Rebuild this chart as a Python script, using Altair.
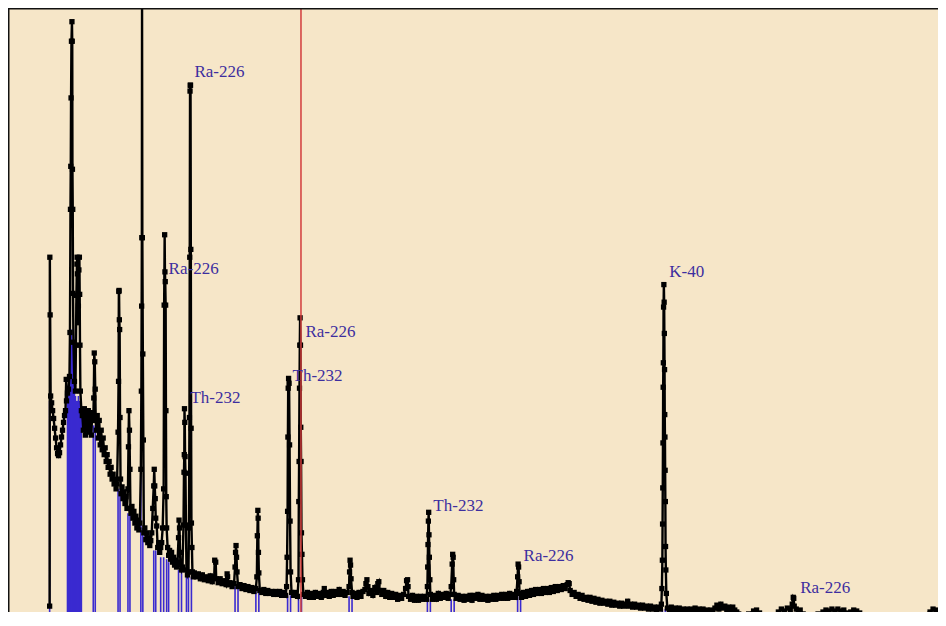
import altair as alt
import pandas as pd

# ---- spectrum (channel, counts in arbitrary units) ----
channel = [
    50, 50.2, 50.5, 51, 52, 53, 54, 55, 56, 57, 58, 59, 60, 61, 62, 63, 64, 65, 66, 66.7, 67, 68, 69,
    70, 70.5, 71, 71.3, 71.6, 72, 72.5, 72.8, 73, 73.3, 73.6, 74, 75, 76, 76.5, 77, 77.5, 77.7, 78, 78.5,
    79, 79.5, 80, 80.3, 80.6, 81, 82, 83, 84, 85, 86, 87, 88, 89, 90, 91, 92, 93, 94, 94.5, 95, 95.5,
    96, 96.5, 97, 98, 99, 100, 101, 102, 103, 104, 105, 106, 107, 108, 109, 110, 111, 112, 113, 114,
    115, 116, 117, 118, 119, 119.5, 119.8, 120, 120.3, 120.6, 121, 121.5, 122, 123, 124, 125, 126, 127,
    128, 129, 129.5, 130, 130.5, 131, 131.5, 132, 133, 134, 135, 136, 137, 138, 139, 140, 141, 142,
    142.5, 142.8, 143, 143.2, 143.5, 144, 144.5, 145, 146, 147, 148, 149, 150, 151, 152, 153, 154, 155,
    155.5, 156, 156.5, 157, 158, 159, 160, 161, 162, 163, 164, 165, 165.5, 166, 166.3, 166.6, 167,
    167.3, 167.6, 168, 169, 170, 171, 172, 173, 174, 175, 176, 177, 178, 179, 180, 180.5, 181, 181.5,
    182, 183, 184, 185, 185.5, 185.8, 186, 186.3, 186.6, 187, 187.5, 188, 189, 190, 190.5, 191, 191.3,
    191.6, 191.8, 192.1, 192.4, 192.7, 193, 193.5, 194, 195, 196, 198, 200, 202, 204, 206, 208, 210,
    212, 214, 216, 216.5, 217.5, 218, 220, 222, 224, 226, 228, 229, 229.5, 230, 232, 234, 236, 237,
    237.5, 238, 238.5, 239, 240, 242, 244, 246, 248, 250, 252, 254, 256, 258, 259, 259.5, 260, 260.3,
    260.6, 261, 262, 264, 266, 268, 270, 272, 274, 276, 278, 280, 282, 284, 286, 288, 289, 289.5, 290,
    290.3, 290.6, 291, 291.5, 292, 292.5, 293, 294, 296, 298, 300, 301, 301.3, 301.6, 302, 302.3, 302.6,
    303, 303.3, 303.6, 304, 304.5, 305, 306, 308, 310, 312, 314, 316, 318, 320, 322, 324, 326, 327, 328,
    330, 332, 334, 336, 338, 340, 342, 344, 346, 348, 350, 352, 352.5, 353, 353.5, 354, 355, 356, 358,
    360, 362, 364, 366, 368, 369, 370, 371, 372, 374, 376, 378, 380, 381, 382, 383, 385, 387, 389, 391,
    393, 395, 397, 399, 401, 403, 405, 407, 409, 410, 411, 411.5, 412, 414, 416, 418, 420, 422, 424,
    426, 428, 430, 431, 431.3, 431.6, 432, 432.3, 432.6, 433, 433.5, 434, 436, 438, 440, 442, 444, 446,
    448, 450, 452, 454, 455, 456, 456.5, 457, 457.5, 458, 460, 462, 464, 466, 468, 470, 472, 474, 476,
    478, 480, 482, 484, 486, 488, 490, 492, 494, 496, 498, 500, 502, 504, 506, 508, 510, 512, 514, 516,
    518, 520, 521, 522, 522.5, 523, 523.5, 524, 526, 528, 530, 532, 534, 536, 538, 540, 542, 544, 546,
    548, 550, 552, 554, 556, 558, 560, 562, 564, 566, 568, 570, 572, 573, 574, 575, 577, 579, 581, 583,
    585, 587, 589, 591, 593, 595, 597, 599, 601, 603, 605, 607, 609, 611, 613, 615, 617, 619, 621, 623,
    625, 627, 629, 631, 633, 634, 636, 638, 640, 642, 644, 646, 648, 650, 652, 654, 656, 658, 660, 662,
    664, 666, 667, 667.5, 668, 668.2, 668.4, 668.6, 668.8, 669, 669.2, 669.5, 669.8, 670, 670.2, 670.4,
    670.6, 670.8, 671, 671.2, 671.5, 672, 673, 675, 677, 679, 681, 683, 685, 687, 689, 691, 693, 695,
    697, 699, 701, 703, 705, 707, 709, 711, 713, 715, 717, 719, 721, 723, 725, 727, 729, 731, 733, 735,
    737, 739, 741, 743, 745, 750, 755, 760, 763, 766, 770, 775, 780, 785, 788, 791, 794, 797, 799, 800,
    800.5, 801, 803, 805, 807, 810, 815, 820, 825, 830, 833, 836, 839, 842, 845, 848, 851, 854, 858,
    861, 864, 867, 870, 880, 890, 900, 910, 920, 930, 938, 941, 944, 946,
]
counts = [
    30, 387, 328, 245, 238, 230, 222, 212, 202, 192, 186, 184, 187, 195, 203, 210, 218, 225, 230, 262, 240, 248, 252,
    265, 310, 436, 480, 550, 608, 628, 608, 477, 436, 350, 300, 260, 250, 297, 348, 380, 387, 370, 320,
    337, 374, 387, 349, 297, 250, 230, 225, 210, 232, 205, 228, 210, 230, 208, 225, 205, 228, 220, 243, 289, 280,
    252, 220, 210, 225, 202, 220, 195, 210, 190, 202, 185, 192, 178, 185, 172, 178, 165, 172, 160, 165,
    155, 160, 150, 155, 208, 260, 352, 353, 323, 313, 223, 160, 145, 152, 140, 147, 135, 142,
    130, 150, 193, 230, 210, 170, 130, 125, 132, 120, 127, 115, 122, 110, 118, 108, 115, 170,
    250, 337, 407, 650, 407, 288, 200, 105, 110, 98, 105, 95, 100, 92, 97, 105, 130, 153,
    170, 153, 140, 120, 112, 90, 95, 85, 90, 95, 110, 150, 338, 410, 372, 362, 338,
    230, 142, 110, 90, 82, 87, 78, 85, 75, 80, 72, 77, 70, 75, 100, 118, 110, 85,
    72, 67, 70, 113, 167, 185, 232, 218, 183, 166, 113, 67, 62, 65, 110, 223, 387,
    557, 563, 563, 395, 212, 115, 90, 65, 60, 64, 60, 63, 58, 62, 57, 60, 56,
    61, 55, 60, 77, 75, 58, 54, 58, 53, 56, 52, 63, 60, 52, 54, 50, 53, 70,
    85, 92, 80, 65, 50, 52, 48, 51, 47, 50, 46, 49, 45, 48, 60, 102, 128, 120,
    85, 64, 46, 44, 47, 43, 46, 43, 45, 42, 45, 42, 45, 41, 44, 41, 50, 80, 127,
    203, 253, 263, 258, 195, 117, 65, 44, 41, 44, 40, 57, 137, 178, 253, 297, 325,
    297, 213, 178, 105, 83, 57, 42, 40, 44, 39, 43, 39, 44, 40, 43, 39, 44, 48, 41,
    44, 40, 45, 41, 45, 42, 47, 42, 45, 41, 44, 50, 65, 77, 72, 58, 44, 40, 43,
    39, 44, 40, 45, 47, 53, 57, 50, 43, 46, 41, 49, 44, 53, 55, 46, 42, 46, 40, 44,
    39, 43, 39, 42, 37, 41, 38, 42, 48, 56, 57, 50, 40, 37, 41, 36, 40, 36, 40,
    37, 40, 37, 50, 70, 93, 117, 126, 103, 80, 57, 42, 37, 41, 37, 43, 38, 42,
    39, 43, 38, 42, 50, 73, 83, 80, 57, 42, 38, 41, 37, 40, 36, 40, 37, 41, 36,
    41, 38, 42, 37, 41, 37, 40, 36, 40, 37, 41, 37, 41, 38, 42, 38, 42, 38, 43, 39,
    42, 39, 45, 60, 73, 70, 55, 43, 39, 44, 40, 45, 41, 46, 42, 47, 43, 47, 43,
    48, 44, 48, 44, 49, 45, 50, 46, 50, 47, 51, 48, 52, 54, 53, 46, 42, 44, 40, 42,
    38, 41, 37, 39, 36, 39, 35, 38, 34, 37, 33, 36, 33, 35, 32, 35, 31, 34, 31, 33,
    30, 33, 30, 32, 35, 30, 32, 29, 32, 29, 31, 28, 31, 28, 30, 27, 30, 27, 29, 26,
    29, 27, 32, 48, 77, 114, 151, 197, 254, 279, 336, 359, 341, 309, 272, 226,
    203, 169, 137, 91, 67, 43, 28, 26, 29, 26, 28, 25, 28, 25, 27, 24, 27, 24,
    27, 25, 28, 25, 27, 24, 27, 24, 26, 23, 26, 23, 28, 31, 27, 32, 28, 30, 26, 29,
    25, 29, 26, 24, 22, 21, 22, 25, 26, 23, 20, 20, 21, 24, 27, 25, 28, 26, 32, 39,
    38, 30, 27, 24, 26, 22, 21, 20, 22, 24, 26, 25, 27, 25, 27, 25, 26, 23, 24,
    26, 25, 23, 20, 20, 20, 19, 19, 20, 21, 24, 27, 26, 25,
]

# ---- region-of-interest markers (blue) ----
roi_channel = [50, 68, 69, 70, 71, 72, 73, 74, 75, 76, 77, 78, 79, 80, 81, 82, 94, 96, 119, 121,
               129, 131, 142, 144, 155, 157, 162, 165, 168, 170, 180, 183, 188, 190, 193, 237, 240,
               258, 261, 290, 293, 301, 304, 352, 355, 431, 434, 455, 458, 522, 525, 668, 671]
roi_counts = [240, 245, 250, 265, 305, 313, 300, 290, 255, 245, 240, 240, 245, 240, 235, 225, 215, 215, 150, 150,
              125, 125, 200, 110, 87, 87, 80, 80, 78, 75, 67, 65, 62, 62, 60, 50, 48,
              46, 45, 41, 41, 40, 40, 40, 40, 37, 37, 37, 37, 40, 40, 27, 27]

# ---- nuclide labels ----
label_text = ["Ra-226", "Ra-226", "Th-232", "Ra-226", "Th-232", "Th-232", "Ra-226", "K-40", "Ra-226"]
label_channel = [196, 170, 192, 308, 295, 437, 528, 675, 807]
label_counts = [571, 370, 238, 305, 260, 127, 76, 367, 43]

cursor_channel = [303.5]

W, H = 930, 604
BG = "#F6E6C8"

spec = pd.DataFrame({"channel": channel, "counts": counts})
roi = pd.DataFrame({"channel": roi_channel, "counts": roi_counts})
labels = pd.DataFrame({"channel": label_channel, "counts": label_counts, "text": label_text})
cursor = pd.DataFrame({"channel": cursor_channel})

xs = alt.Scale(domain=[8, 946], nice=False, zero=False)
ys = alt.Scale(domain=[24, 642], nice=False, zero=False)

X = alt.X("channel:Q", scale=xs, axis=None)
Y = alt.Y("counts:Q", scale=ys, axis=None)

roi_layer = alt.Chart(roi).transform_calculate(base="0").mark_rule(
    color="#3A2AD0", strokeWidth=1.6, clip=True
).encode(x=X, y=Y, y2="base:Q")

line_layer = alt.Chart(spec).mark_line(
    color="#000000", strokeWidth=2.4, clip=True,
    point=alt.OverlayMarkDef(shape="square", size=28, filled=True, color="#000000", clip=True),
).encode(x=X, y=Y)

cursor_layer = alt.Chart(cursor).mark_rule(color="#D23C3C", strokeWidth=1.5).encode(x=X)

text_layer = alt.Chart(labels).mark_text(
    align="left", baseline="alphabetic", font="Liberation Serif", fontSize=17, color="#3D2E9F"
).encode(x=X, y=Y, text="text:N")

left_border = alt.Chart(cursor).mark_rule(color="#111111", strokeWidth=3).encode(
    x=alt.value(0), y=alt.value(0), y2=alt.value(H)
)
top_border = alt.Chart(cursor).mark_rule(color="#111111", strokeWidth=3).encode(
    x=alt.value(0), x2=alt.value(W), y=alt.value(0)
)

chart = alt.layer(
    roi_layer, line_layer, cursor_layer, text_layer, left_border, top_border
).properties(
    width=W, height=H, padding=0, autosize=alt.AutoSizeParams(type="none"), background=BG
).configure_view(strokeWidth=0, fill=BG)

chart.save("out.html", embed_options={"renderer": "svg", "actions": False})
